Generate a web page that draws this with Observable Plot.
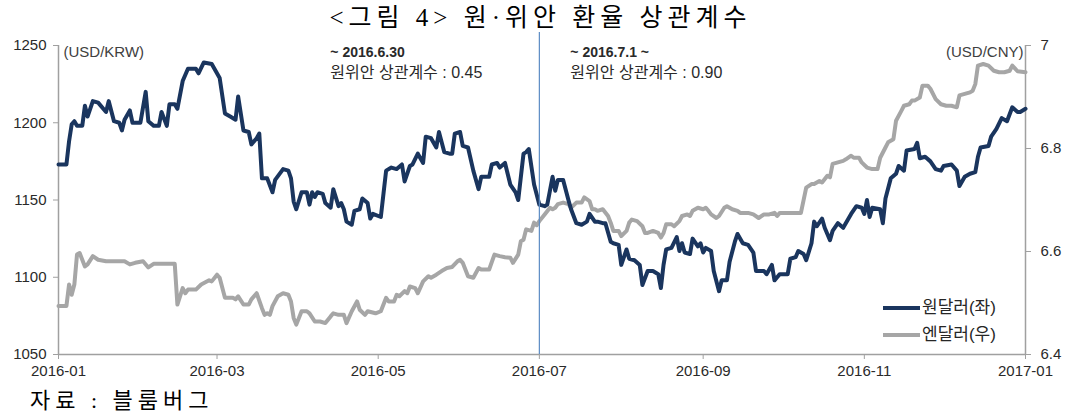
<!DOCTYPE html>
<html>
<head>
<meta charset="utf-8">
<script src="https://cdn.jsdelivr.net/npm/d3@7"></script>
<script src="https://cdn.jsdelivr.net/npm/@observablehq/plot@0.6"></script>
<style>
  body { margin: 0; background: #fff; width: 1081px; height: 415px; overflow: hidden; position: relative;
         font-family: "Liberation Sans", "Noto Sans CJK KR", sans-serif; }
  #title { height: 36px; line-height: 36px; text-align: center; color: #000;
           font-family: "Liberation Serif", "Noto Sans CJK KR", serif; font-size: 25px; letter-spacing: 5px; }
  #chart { height: 350px; position: relative; }
  #caption { height: 29px; line-height: 29px; padding-left: 30px; color: #000;
             font-family: "Liberation Serif", "Noto Sans CJK KR", serif; font-size: 22px; letter-spacing: 5px; }
  #legend { position: absolute; left: 883px; top: 294px; font-size: 17px; color: #262626; }
  #legend .row { height: 27px; line-height: 27px; white-space: nowrap; }
  #legend .sw { display: inline-block; width: 37px; height: 4px; vertical-align: middle; margin-right: 2px; position: relative; top: -1px; }
</style>
</head>
<body>
<div id="title"></div>
<div id="chart"></div>
<div id="caption"></div>
<div id="legend"></div>
<script>
// ---------------- data ----------------
const titleText = "<그림 4> 원·위안 환율 상관계수";
const captionText = "자료 : 블룸버그";
const seriesNames = ["원달러(좌)", "엔달러(우)"];
const unitLabels = ["(USD/KRW)", "(USD/CNY)"];
const startDate = "2016-01-01";
const endDate = "2017-01-01";
const splitDate = "2016-07-01";
const annotationLeft = ["~ 2016.6.30", "원위안 상관계수 : 0.45"];
const annotationRight = ["~ 2016.7.1 ~", "원위안 상관계수 : 0.90"];
const leftTicks = [1050, 1100, 1150, 1200, 1250];
const rightTicks = [6.4, 6.6, 6.8, 7];

// days since 2016-01-01 and USD/KRW values
const krwDays = [0,3,4,5,6,7,9,10,11,13,15,18,19,21,23,24,25,27,28,31,33,34,36,38,39,41,42,44,45,47,49,52,53,55,58,61,63,65,67,68,70,72,73,75,76,77,79,81,82,85,87,88,89,90,92,94,95,96,97,98,100,101,103,104,106,107,108,109,111,112,114,115,117,118,119,122,123,124,126,128,130,131,133,134,136,138,139,141,143,144,146,148,149,150,152,153,155,157,159,160,163,164,166,167,169,171,173,174,176,177,178,180,182,184,185,187,188,189,191,193,194,196,198,200,201,203,204,206,207,209,210,212,213,215,216,218,220,221,223,225,227,228,229,230,232,234,235,236,237,239,240,242,243,244,245,247,248,250,251,253,254,256,257,259,261,263,264,267,268,270,271,272,273,276,277,279,280,282,283,285,286,287,289,290,292,293,295,297,300,302,304,305,306,307,308,311,312,313,315,317,318,320,321,324,325,326,328,330,332,334,335,338,340,341,343,345,347,348,349,352,353,355,357,359,361,363,364,366];
const krwRates = [1173,1173,1188,1199,1201,1198,1198,1211,1204,1214,1213,1207,1214,1201,1200,1195,1202,1208,1200,1200,1220,1201,1198,1198,1207,1198,1212,1212,1209,1227,1235,1235,1232,1239,1238,1229,1206,1204,1202,1217,1195,1194,1186,1190,1193,1164,1164,1155,1163,1170,1169,1164,1149,1144,1155,1155,1147,1155,1152,1155,1154,1148,1145,1157,1146,1148,1144,1136,1134,1143,1144,1151,1148,1138,1141,1139,1154,1169,1171,1170,1173,1162,1172,1173,1180,1174,1191,1190,1184,1194,1181,1180,1180,1193,1194,1185,1184,1169,1157,1165,1165,1173,1174,1171,1174,1160,1155,1150,1180,1181,1183,1160,1147,1146,1147,1165,1156,1163,1163,1150,1144,1135,1134,1136,1141,1136,1136,1135,1135,1123,1122,1121,1108,1118,1112,1111,1108,1095,1104,1104,1102,1093,1108,1118,1119,1126,1117,1122,1116,1115,1125,1120,1122,1116,1119,1117,1104,1091,1098,1098,1110,1123,1128,1122,1121,1116,1104,1104,1102,1108,1098,1100,1102,1102,1112,1113,1117,1115,1111,1122,1136,1133,1138,1132,1124,1130,1135,1132,1141,1146,1145,1141,1150,1139,1145,1144,1135,1151,1164,1167,1172,1169,1182,1183,1187,1177,1178,1175,1170,1169,1172,1173,1169,1159,1165,1167,1168,1178,1184,1185,1191,1196,1203,1201,1210,1207,1207,1209];

// days since 2016-01-01 and USD/CNY values
const cnyDays = [0,3,4,5,6,7,8,10,11,13,15,18,25,27,29,32,34,36,44,45,47,48,49,52,54,57,58,60,61,63,66,67,68,70,72,73,75,77,78,79,80,81,83,85,87,88,89,90,92,94,95,97,99,101,103,104,106,108,109,111,113,114,116,117,120,122,124,125,127,128,129,131,132,133,135,136,138,140,141,143,145,147,149,151,152,153,155,157,159,160,163,165,167,169,171,172,174,175,176,177,179,180,181,182,184,186,187,188,189,191,193,194,196,198,199,201,202,203,204,206,208,209,210,212,213,215,216,217,219,221,222,223,225,227,228,229,230,232,233,235,236,238,239,240,242,244,245,246,247,249,250,252,253,255,257,258,261,263,265,267,269,271,272,273,281,283,285,286,288,289,291,292,293,295,297,298,300,301,303,304,306,308,310,311,313,314,316,317,319,320,322,323,324,326,327,329,330,332,334,336,338,340,341,343,345,346,347,348,350,352,354,356,358,360,361,363,366];
const cnyRates = [6.494,6.494,6.536,6.516,6.536,6.594,6.597,6.571,6.575,6.591,6.584,6.581,6.581,6.575,6.578,6.581,6.569,6.576,6.576,6.497,6.529,6.519,6.526,6.526,6.536,6.544,6.542,6.555,6.549,6.51,6.51,6.507,6.513,6.497,6.497,6.507,6.519,6.49,6.477,6.48,6.477,6.494,6.513,6.519,6.516,6.503,6.471,6.458,6.484,6.484,6.48,6.464,6.464,6.461,6.474,6.48,6.477,6.477,6.461,6.484,6.503,6.487,6.477,6.484,6.48,6.484,6.51,6.503,6.503,6.516,6.513,6.523,6.519,6.532,6.529,6.519,6.542,6.552,6.549,6.555,6.562,6.568,6.57,6.581,6.584,6.578,6.552,6.549,6.568,6.565,6.565,6.594,6.591,6.589,6.588,6.578,6.594,6.62,6.623,6.643,6.64,6.656,6.651,6.659,6.672,6.685,6.682,6.685,6.692,6.695,6.692,6.685,6.695,6.695,6.705,6.698,6.682,6.682,6.679,6.682,6.669,6.656,6.64,6.64,6.63,6.64,6.656,6.662,6.659,6.649,6.636,6.636,6.64,6.636,6.627,6.636,6.653,6.653,6.649,6.659,6.669,6.672,6.669,6.679,6.685,6.682,6.685,6.679,6.672,6.665,6.669,6.685,6.688,6.682,6.679,6.675,6.675,6.672,6.665,6.672,6.672,6.675,6.669,6.675,6.675,6.724,6.731,6.731,6.737,6.734,6.747,6.744,6.77,6.773,6.776,6.779,6.786,6.782,6.782,6.773,6.763,6.76,6.76,6.782,6.802,6.812,6.818,6.854,6.873,6.883,6.886,6.893,6.893,6.899,6.922,6.922,6.916,6.896,6.886,6.883,6.883,6.88,6.903,6.906,6.909,6.912,6.925,6.961,6.964,6.961,6.951,6.948,6.948,6.951,6.961,6.95,6.948];

// ---------------- build ----------------
const navy = "#1a355e";
const gray = "#a6a6a6";
const axisGray = "#a0a0a0";
const textColor = "#2a2a2a";

const t0 = new Date(startDate + "T00:00:00Z");
const t1 = new Date(endDate + "T00:00:00Z");
const tSplit = new Date(splitDate + "T00:00:00Z");
const dayToDate = d => d3.utcDay.offset(t0, d);

const leftDomain = [leftTicks[0], leftTicks[leftTicks.length - 1]];
const rightDomain = [rightTicks[0], rightTicks[rightTicks.length - 1]];
const rightToLeft = d3.scaleLinear().domain(rightDomain).range(leftDomain);

const krw = krwDays.map((d, i) => ({date: dayToDate(d), value: krwRates[i]}));
const cny = cnyDays.map((d, i) => ({date: dayToDate(d), value: rightToLeft(cnyRates[i])}));
const xTicks = d3.utcMonth.every(2).range(t0, d3.utcDay.offset(t1, 1));

document.getElementById("title").textContent = titleText;
document.getElementById("caption").textContent = captionText;
document.getElementById("legend").innerHTML =
  `<div class="row"><span class="sw" style="background:${navy}"></span>${seriesNames[0]}</div>` +
  `<div class="row"><span class="sw" style="background:${gray}"></span>${seriesNames[1]}</div>`;

const fontFam = '"Liberation Sans", "Noto Sans CJK KR", sans-serif';

const chart = Plot.plot({
  width: 1081,
  height: 350,
  marginTop: 9,
  marginBottom: 32,
  marginLeft: 58,
  marginRight: 56,
  style: {fontFamily: fontFam, fontSize: "15px", color: textColor, background: "#fff", overflow: "visible"},
  x: {type: "utc", domain: [t0, t1]},
  y: {domain: leftDomain},
  marks: [
    Plot.ruleY([leftDomain[0]], {stroke: axisGray, strokeWidth: 1.5}),
    Plot.ruleX([t0, t1], {stroke: axisGray, strokeWidth: 1.5}),
    Plot.axisY(leftTicks, {anchor: "left", tickSize: 5, tickPadding: 7, stroke: axisGray, fill: textColor, label: null, fontSize: 15,
      tickFormat: d => String(d)}),
    Plot.axisY(rightTicks.map(rightToLeft), {anchor: "right", tickSize: 5, tickPadding: 10, stroke: axisGray, fill: textColor, label: null, fontSize: 15,
      tickFormat: d => String(+rightToLeft.invert(d).toFixed(2))}),
    Plot.axisX(xTicks, {tickSize: 5, tickPadding: 6, stroke: axisGray, fill: textColor, label: null, fontSize: 15,
      tickFormat: d3.utcFormat("%Y-%m")}),
    Plot.line(cny, {x: "date", y: "value", stroke: gray, strokeWidth: 4, strokeLinejoin: "round", strokeLinecap: "round"}),
    Plot.line(krw, {x: "date", y: "value", stroke: navy, strokeWidth: 4, strokeLinejoin: "round", strokeLinecap: "round"}),
    Plot.ruleX([tSplit], {stroke: "#5b8cc4", strokeWidth: 1.2, insetTop: -13}),
    Plot.text([unitLabels[0]], {frameAnchor: "top-left", text: d => d, textAnchor: "start", lineAnchor: "middle", dx: 5, dy: 7, fill: "#404040", fontSize: 15}),
    Plot.text([unitLabels[1]], {frameAnchor: "top-right", text: d => d, textAnchor: "end", lineAnchor: "middle", dx: -2, dy: 7, fill: "#404040", fontSize: 15}),
    Plot.text([annotationLeft[0]], {x: () => tSplit, frameAnchor: "top", text: d => d, textAnchor: "start", lineAnchor: "middle", dx: -209, dy: 7, fill: textColor, fontWeight: "bold", fontSize: 14}),
    Plot.text([annotationLeft[1]], {x: () => tSplit, frameAnchor: "top", text: d => d, textAnchor: "start", lineAnchor: "middle", dx: -209, dy: 27, fill: textColor, fontSize: 16}),
    Plot.text([annotationRight[0]], {x: () => tSplit, frameAnchor: "top", text: d => d, textAnchor: "start", lineAnchor: "middle", dx: 31, dy: 7, fill: textColor, fontWeight: "bold", fontSize: 14}),
    Plot.text([annotationRight[1]], {x: () => tSplit, frameAnchor: "top", text: d => d, textAnchor: "start", lineAnchor: "middle", dx: 31, dy: 27, fill: textColor, fontSize: 16})
  ]
});
document.getElementById("chart").appendChild(chart);
</script>
</body>
</html>
